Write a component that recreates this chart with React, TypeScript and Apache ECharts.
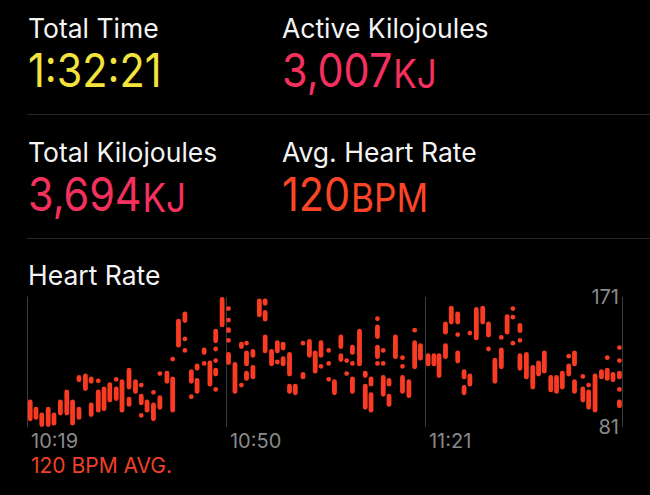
import React, { useEffect, useRef } from 'react';
import * as echarts from 'echarts';

const statLabels = ['Total Time', 'Active Kilojoules', 'Total Kilojoules', 'Avg. Heart Rate'];
const statValues = ['1:32:21', '3,007', '3,694', '120'];
const statUnits = ['', 'KJ', 'KJ', 'BPM'];
const statColors = ['#f2e33d', '#f4305e', '#f4305e', '#fc4527'];

const chartTitle = 'Heart Rate';
const timeTickMinutes = [0, 31, 62];
const timeTickLabels = ['10:19', '10:50', '11:21'];
const sessionMinutes = 92.7;
const bpmMin = 81;
const bpmMax = 171;
const avgLabel = '120 BPM AVG.';

// [minutes after 10:19, low bpm, high bpm]; low === high is a single reading (dot)
const heartRateSegments: [number, number, number][] = [
  [0.5, 85, 100],
  [1.4, 86, 95],
  [2.3, 81, 91],
  [3.3, 81, 95],
  [4.2, 82, 91],
  [5.2, 89, 100],
  [6.2, 89, 107],
  [7.1, 82, 100],
  [8.1, 86, 95], [8.1, 112, 117],
  [9.1, 106, 118],
  [10.0, 111, 116], [10.0, 88, 98],
  [11.1, 113, 113], [11.1, 91, 107],
  [12.0, 92, 109],
  [12.9, 98, 112],
  [13.9, 114, 114], [13.9, 99, 109],
  [14.8, 91, 114],
  [15.9, 107, 122], [15.9, 95, 102],
  [16.9, 104, 114],
  [17.8, 110, 110], [17.8, 96, 104], [17.8, 89, 89],
  [18.7, 91, 100],
  [19.7, 105, 105], [19.7, 85, 98],
  [20.7, 118, 118], [20.7, 93, 103],
  [21.8, 111, 120],
  [22.7, 128, 128], [22.7, 91, 116],
  [23.6, 136, 156],
  [24.6, 153, 161], [24.6, 142, 142], [24.6, 134, 134],
  [25.6, 111, 121], [25.6, 102, 102],
  [26.5, 120, 125], [26.5, 104, 115],
  [27.6, 131, 136], [27.6, 125, 125],
  [28.5, 109, 127],
  [29.4, 139, 149], [29.4, 135, 135], [29.4, 127, 127], [29.4, 116, 122], [29.4, 107, 107],
  [30.4, 150, 171],
  [31.4, 163, 163], [31.4, 155, 155], [31.4, 146, 150], [31.4, 141, 141], [31.4, 124, 133],
  [32.4, 104, 126],
  [33.4, 135, 140], [33.4, 110, 110],
  [34.2, 139, 139], [34.2, 123, 134], [34.2, 113, 120],
  [35.2, 129, 135], [35.2, 114, 124],
  [36.2, 157, 170],
  [37.1, 165, 170], [37.1, 154, 162], [37.1, 132, 145],
  [38.1, 123, 135],
  [39.0, 132, 141], [39.0, 126, 126],
  [39.9, 134, 140], [39.9, 123, 130],
  [40.9, 116, 133], [40.9, 104, 111],
  [41.8, 103, 111],
  [43.0, 139, 139], [43.0, 114, 119],
  [44.0, 129, 142],
  [44.9, 118, 134],
  [45.8, 129, 141], [45.8, 123, 123],
  [47.0, 134, 134], [47.0, 125, 125], [47.0, 114, 114],
  [47.9, 103, 114],
  [48.9, 135, 145], [48.9, 126, 132],
  [49.8, 127, 127], [49.8, 118, 118],
  [50.7, 131, 138], [50.7, 125, 125], [50.7, 104, 116],
  [51.8, 123, 149],
  [52.7, 115, 120], [52.7, 93, 111],
  [53.6, 109, 116], [53.6, 91, 105],
  [54.6, 156, 156], [54.6, 142, 152], [54.6, 128, 138], [54.6, 125, 125],
  [55.5, 134, 134], [55.5, 125, 125], [55.5, 102, 117],
  [56.4, 109, 115], [56.4, 95, 104],
  [57.4, 128, 145],
  [58.5, 129, 129], [58.5, 123, 123], [58.5, 104, 117],
  [59.5, 101, 114],
  [60.4, 148, 148], [60.4, 121, 141],
  [61.3, 127, 139],
  [62.5, 123, 132],
  [63.4, 123, 132],
  [64.2, 115, 132],
  [65.2, 145, 154], [65.2, 128, 139],
  [66.1, 152, 165],
  [67.1, 152, 161], [67.1, 145, 145], [67.1, 125, 134],
  [68.1, 114, 121], [68.1, 103, 110],
  [69.0, 146, 146], [69.0, 109, 118],
  [70.0, 141, 164],
  [71.0, 152, 165],
  [71.9, 143, 154], [71.9, 135, 135],
  [72.9, 111, 129],
  [73.9, 143, 143], [73.9, 121, 136],
  [74.8, 145, 159],
  [75.7, 163, 163], [75.7, 157, 157], [75.7, 139, 139],
  [76.8, 146, 153], [76.8, 141, 141], [76.8, 120, 132],
  [77.8, 114, 133],
  [78.8, 107, 124],
  [79.7, 116, 127],
  [80.6, 118, 134],
  [81.6, 105, 117],
  [82.5, 104, 117],
  [83.4, 107, 120],
  [84.4, 130, 130], [84.4, 116, 125],
  [85.3, 123, 134], [85.3, 104, 114],
  [86.6, 116, 116], [86.6, 98, 109],
  [87.5, 110, 110], [87.5, 93, 107],
  [88.5, 91, 118],
  [89.5, 114, 121],
  [90.4, 129, 129], [90.4, 113, 122],
  [91.3, 112, 119],
  [92.3, 136, 136], [92.3, 127, 127], [92.3, 114, 120], [92.3, 107, 107], [92.3, 94, 100],
];

const FONT = 'Inter, "Noto Sans", sans-serif';
const BAR_COLOR = '#fa3b24';
const GRAY = '#8a8a8a';
const GRID_LINE = '#3a3a3a';

export default function App() {
  const ref = useRef<HTMLDivElement>(null);

  useEffect(() => {
    document.body.style.margin = '0';
    document.body.style.background = '#000';
    if (!ref.current) return;
    const chart = echarts.init(ref.current, undefined, { renderer: 'svg' });

    const colX = [28, 282];
    const headerY = [28, 152];
    const valueY = [71, 195];

    const statGraphics: any[] = [];
    statLabels.forEach((label, i) => {
      const cx = colX[i % 2];
      const row = Math.floor(i / 2);
      statGraphics.push({
        type: 'text',
        x: cx,
        y: headerY[row],
        style: {
          text: label,
          font: `400 26.5px ${FONT}`,
          fill: '#f4f4f4',
          textAlign: 'left',
          textVerticalAlign: 'middle',
        },
      });
      const unit = statUnits[i];
      statGraphics.push({
        type: 'text',
        x: cx,
        y: valueY[row],
        scaleX: 0.9,
        style: {
          text: unit ? `{v|${statValues[i]}}{u|${unit}}` : `{v|${statValues[i]}}`,
          textAlign: 'left',
          textVerticalAlign: 'middle',
          rich: {
            v: { font: `400 46px ${FONT}`, fill: statColors[i], lineHeight: 46, verticalAlign: 'bottom' },
            u: { font: `400 39px ${FONT}`, fill: statColors[i], lineHeight: 39, verticalAlign: 'bottom', padding: [0, 0, 1, 1] },
          },
        },
      });
    });

    const option: any = {
      animation: false,
      backgroundColor: '#000',
      grid: { left: 27, right: 28, top: 297, bottom: 68, containLabel: false },
      xAxis: {
        type: 'value',
        min: 0,
        max: sessionMinutes,
        interval: 31,
        axisLine: { show: false },
        axisTick: { show: false },
        splitLine: { show: true, lineStyle: { color: GRID_LINE, width: 1 } },
        axisLabel: {
          show: true,
          color: GRAY,
          fontFamily: FONT,
          fontSize: 20,
          align: 'left',
          margin: 4,
          padding: [0, 0, 0, 4],
          showMinLabel: true,
          showMaxLabel: false,
          formatter: (v: number) => {
            const idx = timeTickMinutes.findIndex((t) => Math.abs(t - v) < 0.01);
            return idx >= 0 ? timeTickLabels[idx] : '';
          },
        },
      },
      yAxis: {
        type: 'value',
        position: 'right',
        min: bpmMin,
        max: bpmMax,
        interval: bpmMax - bpmMin,
        axisLine: { show: true, lineStyle: { color: GRID_LINE, width: 1 } },
        axisTick: { show: false },
        splitLine: { show: false },
        axisLabel: {
          show: true,
          inside: true,
          margin: 3,
          color: GRAY,
          fontFamily: FONT,
          fontSize: 20,
        },
      },
      series: [
        {
          type: 'custom',
          data: heartRateSegments,
          encode: { x: 0, y: [1, 2] },
          renderItem: (_params: any, api: any) => {
            const m = api.value(0);
            const lo = api.value(1);
            const hi = api.value(2);
            const top = api.coord([m, hi]);
            const bot = api.coord([m, lo]);
            const w = 4.8;
            let y0 = top[1];
            let h = bot[1] - top[1];
            if (h < w) {
              const c = (top[1] + bot[1]) / 2;
              y0 = c - w / 2;
              h = w;
            }
            return {
              type: 'rect',
              shape: { x: top[0] - w / 2, y: y0, width: w, height: h, r: w / 2 },
              style: { fill: BAR_COLOR },
            };
          },
        },
      ],
      graphic: [
        ...statGraphics,
        { type: 'line', shape: { x1: 27, y1: 114.5, x2: 650, y2: 114.5 }, style: { stroke: '#262626', lineWidth: 1 } },
        { type: 'line', shape: { x1: 27, y1: 238.5, x2: 650, y2: 238.5 }, style: { stroke: '#262626', lineWidth: 1 } },
        {
          type: 'text',
          x: 28,
          y: 275,
          style: { text: chartTitle, font: `400 26.5px ${FONT}`, fill: '#f4f4f4', textAlign: 'left', textVerticalAlign: 'middle' },
        },
        {
          type: 'text',
          x: 31,
          y: 465,
          style: { text: avgLabel, font: `400 21px ${FONT}`, fill: '#f0402a', textAlign: 'left', textVerticalAlign: 'middle' },
        },
      ],
    };

    chart.setOption(option);
    return () => chart.dispose();
  }, []);

  return <div ref={ref} style={{ width: 650, height: 495, background: '#000' }} />;
}
